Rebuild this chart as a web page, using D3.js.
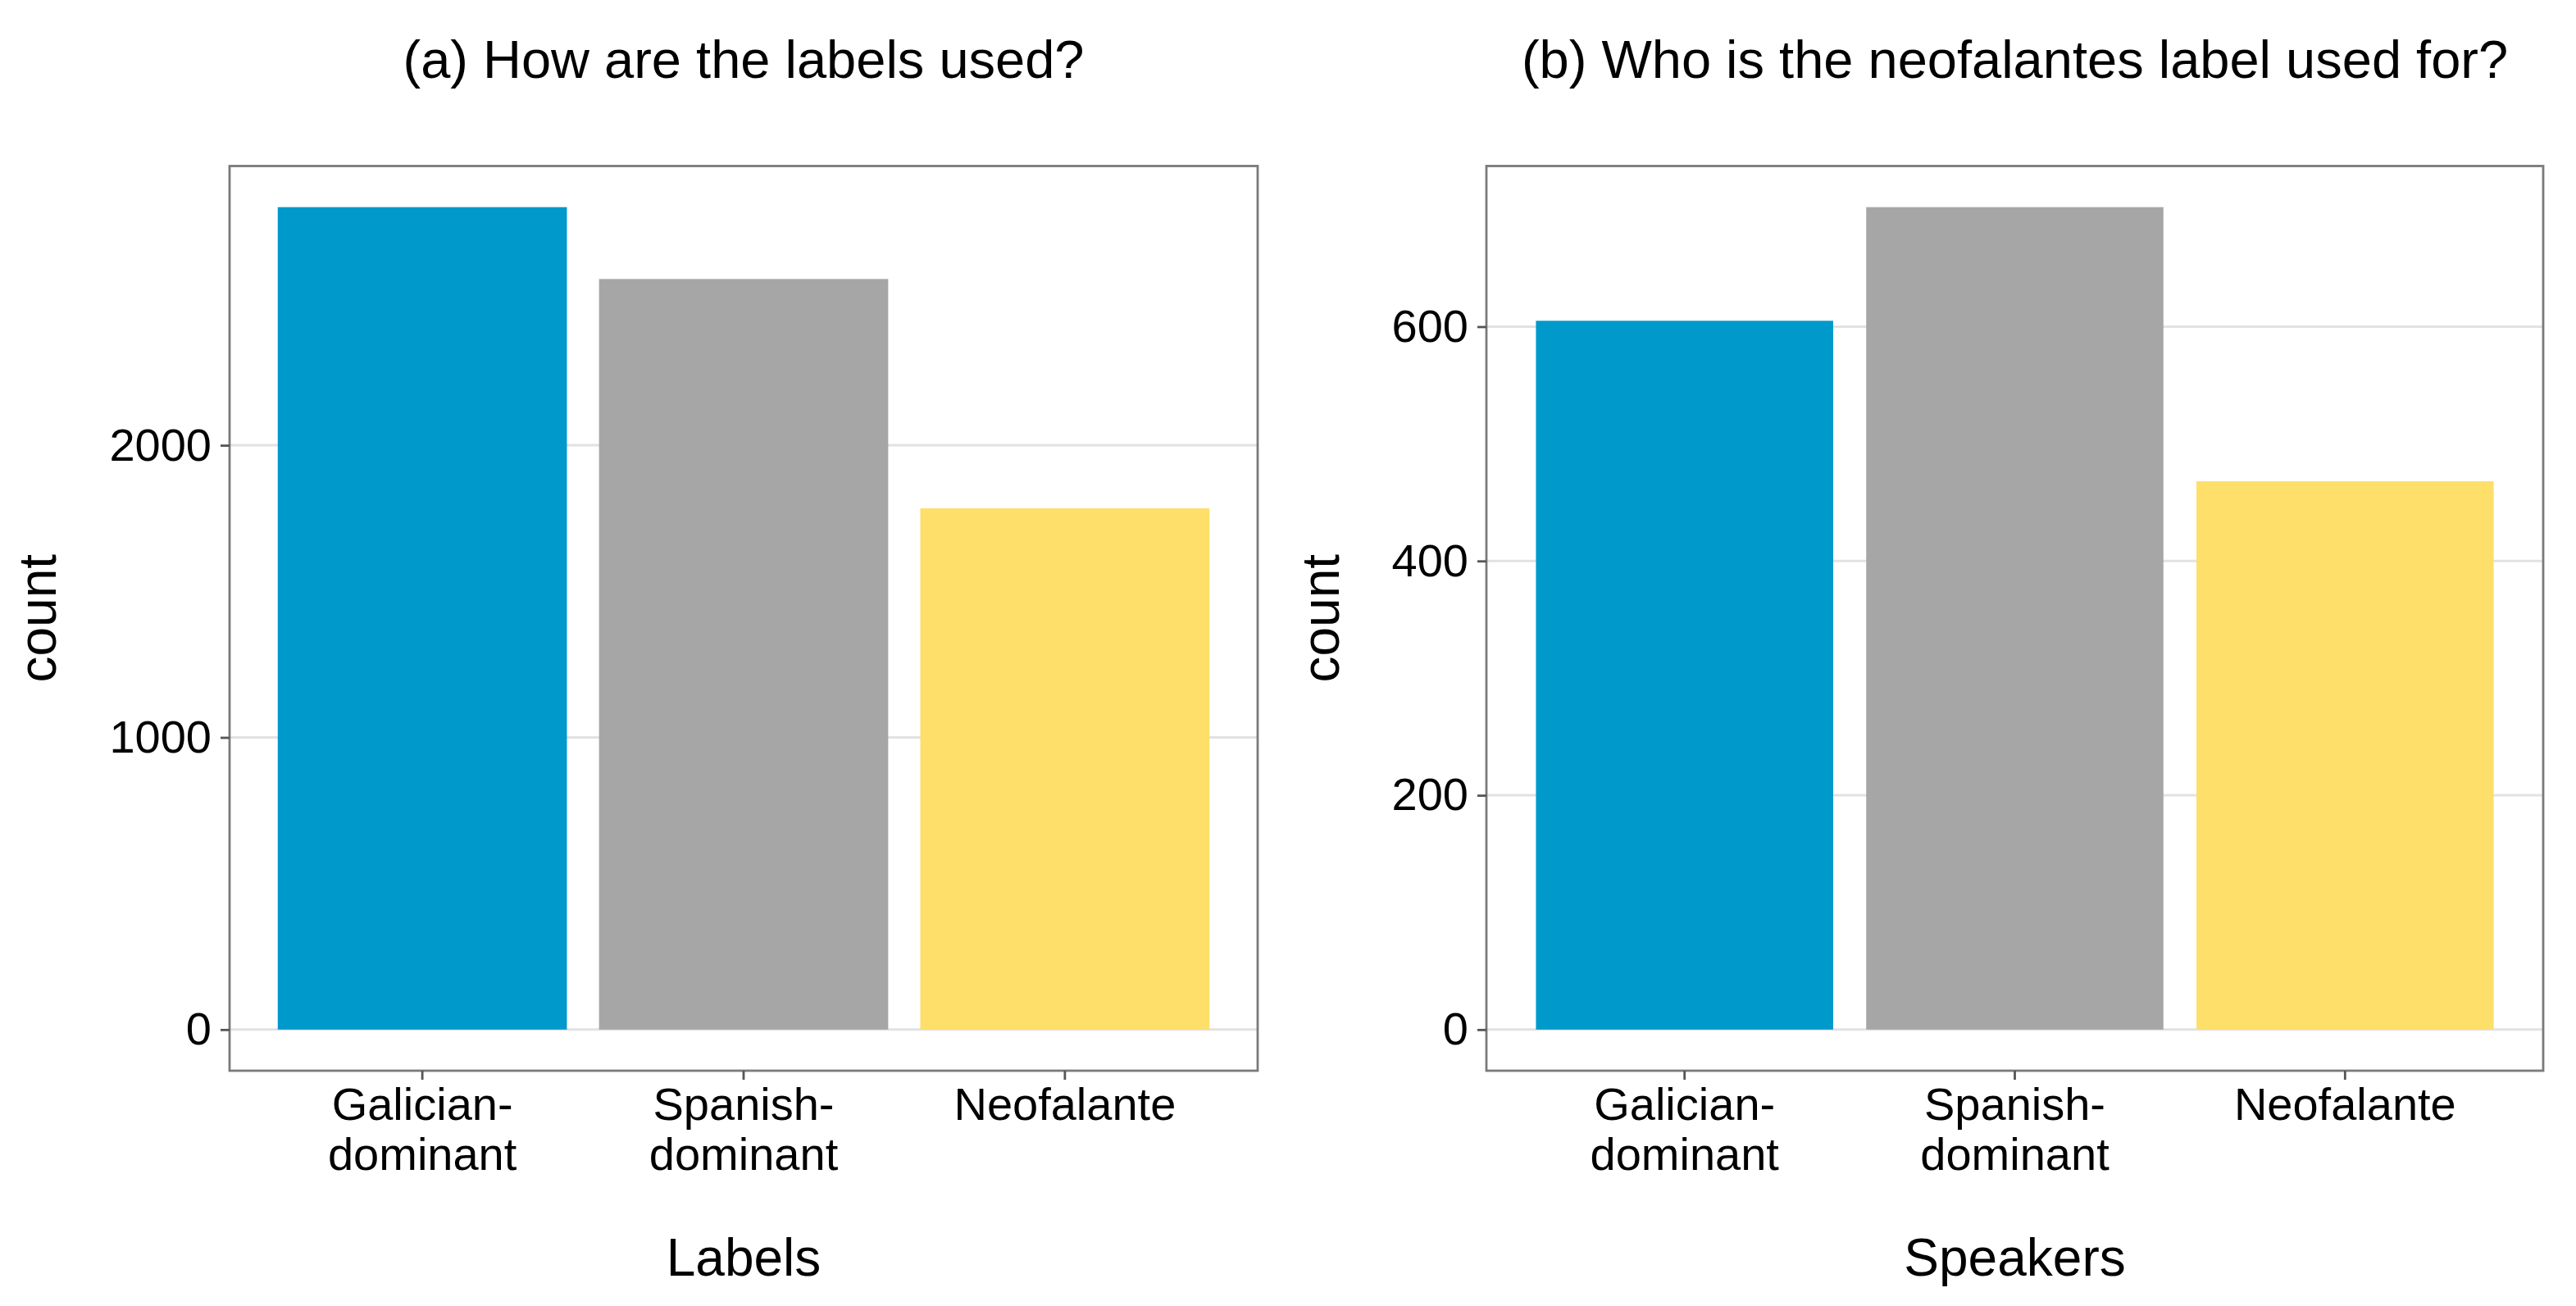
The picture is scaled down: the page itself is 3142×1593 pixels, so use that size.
<!DOCTYPE html>
<html>
<head>
<meta charset="utf-8">
<script src="https://cdn.jsdelivr.net/npm/d3@7"></script>
<style>
  html, body { margin: 0; padding: 0; background: #ffffff; }
  svg { display: block; }
  text { font-family: "Liberation Sans", Arial, Helvetica, sans-serif; fill: #000; }
</style>
</head>
<body>
<svg id="chart" width="3142" height="1593"></svg>
<script>
// ---- data ----
const categories = ["Galician-dominant", "Spanish-dominant", "Neofalante"];
const categoryLabelLines = [["Galician-", "dominant"], ["Spanish-", "dominant"], ["Neofalante"]];
const colors = ["#0099cc", "#a6a6a6", "#fddf69"];

const labelsCounts = [2815, 2569, 1784];      // (a) How are the labels used?
const speakersCounts = [605, 702, 468];       // (b) Who is the neofalantes label used for?

const ticksA = [0, 1000, 2000];
const ticksB = [0, 200, 400, 600];

const titleA = "(a) How are the labels used?";
const titleB = "(b) Who is the neofalantes label used for?";
const xTitleA = "Labels";
const xTitleB = "Speakers";
const yTitle = "count";

// ---- drawing ----
const svg = d3.select("#chart");
svg.append("rect").attr("width", 3142).attr("height", 1593).attr("fill", "#ffffff");

function panel(cfg) {
  const { left, right, top, bottom, values, ticks, title, xTitle, yTitleX } = cfg;
  const g = svg.append("g");
  const maxV = d3.max(values);
  const y = d3.scaleLinear()
    .domain([-0.05 * maxV, maxV * 1.05])
    .range([bottom, top]);
  const x = d3.scaleBand()
    .domain(categories)
    .range([left, right])
    .paddingInner(0.1)
    .paddingOuter(0.15);

  g.append("rect")
    .attr("x", left).attr("y", top)
    .attr("width", right - left).attr("height", bottom - top)
    .attr("fill", "#ffffff");

  g.append("g").selectAll("line").data(ticks).join("line")
    .attr("x1", left).attr("x2", right)
    .attr("y1", d => y(d)).attr("y2", d => y(d))
    .attr("stroke", "#e2e2e2").attr("stroke-width", 3);

  g.append("g").selectAll("rect").data(values).join("rect")
    .attr("x", (d, i) => x(categories[i]))
    .attr("width", x.bandwidth())
    .attr("y", d => y(d))
    .attr("height", d => y(0) - y(d))
    .attr("fill", (d, i) => colors[i]);

  g.append("rect")
    .attr("x", left).attr("y", top)
    .attr("width", right - left).attr("height", bottom - top)
    .attr("fill", "none").attr("stroke", "#7a7a7a").attr("stroke-width", 2.8);

  const yAxis = d3.axisLeft(y).tickValues(ticks).tickSize(11).tickPadding(11)
    .tickFormat(d3.format("d"));
  const ya = g.append("g").attr("transform", `translate(${left},0)`).call(yAxis);
  ya.select(".domain").remove();
  ya.selectAll(".tick line").attr("stroke", "#555").attr("stroke-width", 2.8);
  ya.selectAll(".tick text")
    .attr("font-size", 56).attr("fill", "#000")
    .attr("font-family", "Liberation Sans, Arial, sans-serif");

  const xAxis = d3.axisBottom(x).tickSize(11).tickPadding(10).tickFormat("");
  const xa = g.append("g").attr("transform", `translate(0,${bottom})`).call(xAxis);
  xa.select(".domain").remove();
  xa.selectAll(".tick line").attr("stroke", "#555").attr("stroke-width", 2.8);
  xa.selectAll(".tick text").remove();

  const lab = g.append("g").selectAll("text").data(categories).join("text")
    .attr("text-anchor", "middle")
    .attr("font-size", 56)
    .attr("x", d => x(d) + x.bandwidth() / 2)
    .attr("y", bottom + 60);
  lab.each(function (d, i) {
    const t = d3.select(this);
    categoryLabelLines[i].forEach((line, j) => {
      t.append("tspan")
        .attr("x", x(d) + x.bandwidth() / 2)
        .attr("dy", j === 0 ? 0 : 61)
        .text(line);
    });
  });

  g.append("text")
    .attr("x", (left + right) / 2).attr("y", 1556)
    .attr("text-anchor", "middle").attr("font-size", 64)
    .text(xTitle);

  g.append("text")
    .attr("transform", `translate(${yTitleX},${(top + bottom) / 2}) rotate(-90)`)
    .attr("text-anchor", "middle").attr("font-size", 64)
    .text(yTitle);

  g.append("text")
    .attr("x", (left + right) / 2).attr("y", 95)
    .attr("text-anchor", "middle").attr("font-size", 65)
    .text(title);
}

panel({ left: 280, right: 1534, top: 202.5, bottom: 1306, values: labelsCounts, ticks: ticksA,
        title: titleA, xTitle: xTitleA, yTitleX: 68 });
panel({ left: 1813, right: 3102, top: 202.5, bottom: 1306, values: speakersCounts, ticks: ticksB,
        title: titleB, xTitle: xTitleB, yTitleX: 1633 });
</script>
</body>
</html>
